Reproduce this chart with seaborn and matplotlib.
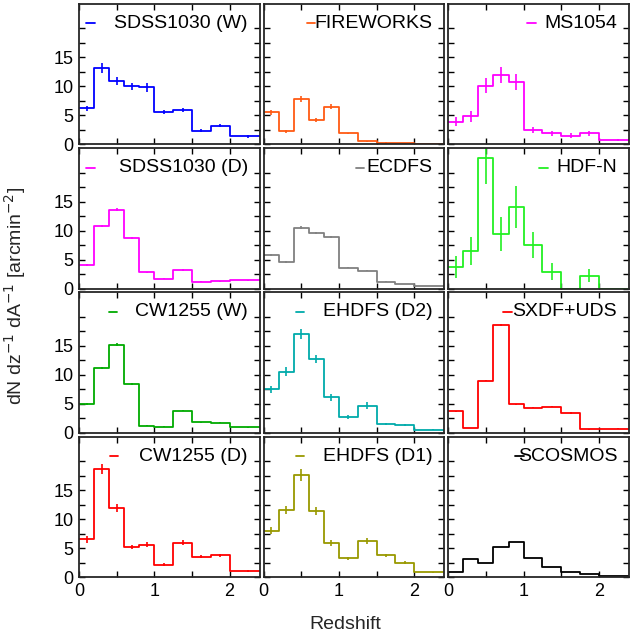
import numpy as np
import pandas as pd
import matplotlib
matplotlib.use("Agg")
import matplotlib.pyplot as plt
import seaborn as sns

# ---------------- data ----------------
edges = [0.0, 0.2, 0.4, 0.6, 0.8, 1.0, 1.25, 1.5, 1.75, 2.0, 2.5]

names = ["SDSS1030 (W)", "FIREWORKS", "MS1054",
         "SDSS1030 (D)", "ECDFS", "HDF-N",
         "CW1255 (W)", "EHDFS (D2)", "SXDF+UDS",
         "CW1255 (D)", "EHDFS (D1)", "SCOSMOS"]

sdss1030_w = [6.2, 13.1, 10.9, 10.0, 9.8, 5.5, 5.9, 2.3, 3.2, 1.35]
sdss1030_w_err = [0.45, 0.85, 0.7, 0.6, 0.7, 0.35, 0.35, 0.25, 0.3, 0.2]
fireworks = [5.5, 2.2, 7.8, 4.2, 6.5, 1.9, 0.5, 0.26, 0.14, 0.08]
fireworks_err = [0.4, 0.2, 0.5, 0.35, 0.45, 0.12, 0.1, 0.08, 0.05, 0.04]
ms1054 = [3.9, 4.8, 10.1, 11.9, 10.8, 2.5, 1.9, 1.5, 1.9, 0.7]
ms1054_err = [0.8, 0.9, 1.3, 1.35, 1.4, 0.55, 0.45, 0.4, 0.45, 0.15]
sdss1030_d = [4.0, 10.8, 13.6, 8.7, 2.8, 1.7, 3.2, 1.2, 1.26, 1.44]
sdss1030_d_err = [0.15, 0.15, 0.3, 0.15, 0.1, 0.1, 0.1, 0.08, 0.08, 0.08]
ecdfs = [5.8, 4.6, 10.5, 9.6, 8.9, 3.6, 3.05, 1.2, 0.8, 0.46]
ecdfs_err = [0.15, 0.12, 0.2, 0.2, 0.2, 0.1, 0.1, 0.06, 0.05, 0.04]
hdfn = [3.7, 6.5, 22.6, 9.4, 14.1, 7.5, 2.9, 0.0, 2.2, 0.0]
hdfn_err = [1.85, 2.45, 4.6, 3.0, 3.6, 2.3, 1.5, 0.0, 1.15, 0.0]
cw1255_w = [5.0, 11.2, 15.2, 8.4, 1.24, 1.06, 3.8, 1.8, 1.7, 0.95]
cw1255_w_err = [0.15, 0.2, 0.25, 0.15, 0.08, 0.08, 0.12, 0.08, 0.08, 0.05]
ehdfs_d2 = [7.5, 10.55, 17.0, 12.7, 6.1, 2.7, 4.7, 1.5, 1.35, 0.5]
ehdfs_d2_err = [0.65, 0.8, 0.9, 0.75, 0.55, 0.3, 0.55, 0.2, 0.2, 0.1]
sxdf_uds = [3.7, 0.8, 9.0, 18.6, 4.9, 4.3, 4.5, 3.4, 0.6, 0.7]
sxdf_uds_err = [0.1, 0.05, 0.15, 0.2, 0.1, 0.1, 0.1, 0.1, 0.05, 0.05]
cw1255_d = [6.5, 18.7, 11.9, 5.2, 5.6, 2.1, 5.95, 3.5, 3.75, 1.06]
cw1255_d_err = [0.6, 0.85, 0.7, 0.4, 0.45, 0.25, 0.5, 0.3, 0.3, 0.15]
ehdfs_d1 = [8.0, 11.6, 17.6, 11.4, 5.8, 3.2, 6.2, 3.75, 2.45, 0.8]
ehdfs_d1_err = [0.6, 0.7, 0.95, 0.7, 0.5, 0.3, 0.45, 0.3, 0.25, 0.1]
scosmos = [0.9, 3.1, 2.5, 5.1, 6.05, 3.35, 1.65, 0.8, 0.55, 0.15]
scosmos_err = [0.0] * 10

values = [sdss1030_w, fireworks, ms1054, sdss1030_d, ecdfs, hdfn,
          cw1255_w, ehdfs_d2, sxdf_uds, cw1255_d, ehdfs_d1, scosmos]
errors = [sdss1030_w_err, fireworks_err, ms1054_err, sdss1030_d_err, ecdfs_err, hdfn_err,
          cw1255_w_err, ehdfs_d2_err, sxdf_uds_err, cw1255_d_err, ehdfs_d1_err, scosmos_err]

colors = ["#0000ff", "#ff5a14", "#ff00ff",
          "#ff00ff", "#808080", "#22f022",
          "#00aa00", "#00aaaa", "#ff0000",
          "#ff0000", "#999900", "#000000"]

# legend handle left positions (px from panel left)
handle_px = [7, 43, 79, 7, 92, 91, 30, 32, 55, 31, 32, 67]

xticks = [0, 0.5, 1, 1.5, 2]
xticklabels = ["0", "", "1", "", "2"]
yticks = [0, 2.5, 5, 7.5, 10, 12.5, 15, 17.5, 20]
yticklabels = ["0", "", "5", "", "10", "", "15", "", ""]

# ---------------- style ----------------
sns.set_style("ticks")
plt.rcParams["font.family"] = ["Liberation Sans", "DejaVu Sans"]
plt.rcParams["axes.linewidth"] = 1.3

fig, axes = plt.subplots(4, 3, figsize=(6.30, 6.34), dpi=100)
fig.subplots_adjust(left=0.1254, right=0.9984, top=0.9937, bottom=0.0899,
                    wspace=0.022, hspace=0.0285)

edges_a = np.array(edges)
centers = (edges_a[:-1] + edges_a[1:]) / 2
panel_w = 180.7

for i, ax in enumerate(axes.flat):
    df = pd.DataFrame({"z": centers, "n": values[i]})
    sns.histplot(data=df, x="z", weights="n", bins=edges, element="step",
                 fill=False, color=colors[i], linewidth=1.3, ax=ax)
    err = np.array(errors[i])
    mask = err > 0
    if mask.any():
        ax.errorbar(centers[mask], np.array(values[i])[mask], yerr=err[mask],
                    fmt="none", ecolor=colors[i], elinewidth=1.2, capsize=0)
    ax.set_xlim(0, 2.4)
    ax.set_ylim(0, 24.2)
    ax.set_xticks(xticks)
    ax.set_yticks(yticks)
    r, c = divmod(i, 3)
    ax.set_xticklabels(xticklabels if r == 3 else [""] * len(xticks))
    ax.set_yticklabels(yticklabels if c == 0 else [""] * len(yticks))
    ax.tick_params(direction="in", top=True, right=True, length=4.5, width=1.0,
                   labelsize=13, pad=4, colors="black")
    ax.set_xlabel("")
    ax.set_ylabel("")
    for s in ax.spines.values():
        s.set_visible(True)
        s.set_linewidth(1.3)
    # legend
    ly = 0.862
    ax.text(0.935, ly, names[i], ha="right", va="center", transform=ax.transAxes,
            fontsize=14, color="black")
    h0 = handle_px[i] / panel_w
    ax.plot([h0, h0 + 8.5 / panel_w], [ly, ly], transform=ax.transAxes,
            color=colors[i], lw=1.3, clip_on=False)

fig.text(0.548, 0.008, "Redshift", ha="center", va="baseline", fontsize=14)
fig.text(0.024, 0.533, "dN dz$^{-1}$ dA$^{-1}$ [arcmin$^{-2}$]", rotation=90,
         ha="center", va="center", fontsize=14)

fig.savefig("out.png", dpi=100)
